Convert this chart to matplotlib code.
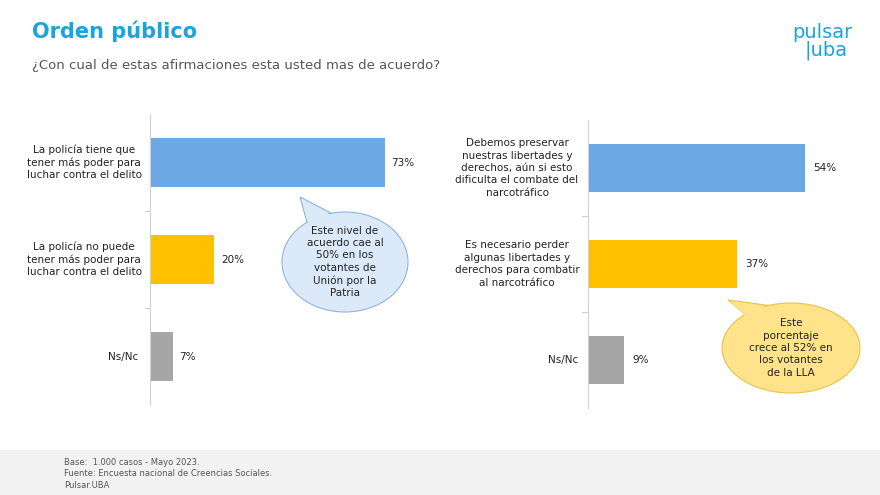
import matplotlib.pyplot as plt
import matplotlib.patches as mpatches

W, H = 880, 495

left_labels = ['La policía tiene que\ntener más poder para\nluchar contra el delito',
               'La policía no puede\ntener más poder para\nluchar contra el delito',
               'Ns/Nc']
left_values = [73, 20, 7]
right_labels = ['Debemos preservar\nnuestras libertades y\nderechos, aún si esto\ndificulta el combate del\nnarcotráfico',
                'Es necesario perder\nalgunas libertades y\nderechos para combatir\nal narcotráfico',
                'Ns/Nc']
right_values = [54, 37, 9]
colors = ['#6CA7E6', '#FFC000', '#A6A6A6']

fig = plt.figure(figsize=(W / 100, H / 100), dpi=100)
fig.patch.set_facecolor('white')


def px_axes(x0, y0, x1, y1):
    return fig.add_axes([x0 / W, 1 - y1 / H, (x1 - x0) / W, (y1 - y0) / H])


def draw_panel(ax, values, xmax):
    ys = range(len(values))
    ax.barh(ys, values, height=0.5, color=colors)
    ax.set_ylim(len(values) - 0.5, -0.5)
    ax.set_xlim(0, xmax)
    for y, v in zip(ys, values):
        ax.text(v + xmax * 0.02, y, f'{v}%', va='center', ha='left', fontsize=7.5, color='#222222')
    ax.set_yticks([])
    ax.set_xticks([])
    for s in ['top', 'right', 'bottom']:
        ax.spines[s].set_visible(False)
    ax.spines['left'].set_color('#D0D0D0')
    for b in [0.5, 1.5]:
        ax.plot([-xmax * 0.015, 0], [b, b], color='#D0D0D0', lw=0.8, clip_on=False)
    return ax


def draw_labels(ax, labels, xc, xr):
    for y, lab in enumerate(labels):
        yy = ax.transData.transform((0, y))[1] / fig.bbox.height
        if '\n' in lab:
            fig.text(xc / W, yy, lab, ha='center', va='center', fontsize=7.5,
                     color='#222222', linespacing=1.3, multialignment='center')
        else:
            fig.text(xr / W, yy, lab, ha='right', va='center', fontsize=7.5, color='#222222')


axl = px_axes(150, 114, 472, 405)
draw_panel(axl, left_values, 100)
draw_labels(axl, left_labels, 84, 138)

axr = px_axes(588, 120, 990, 408)
draw_panel(axr, right_values, 100)
draw_labels(axr, right_labels, 517, 578)


def bubble(cx, cy, w, h, tip, color, edge, text):
    ax = fig.add_axes([0, 0, 1, 1], facecolor='none')
    ax.set_xlim(0, W)
    ax.set_ylim(H, 0)
    ax.axis('off')
    ax.add_patch(mpatches.Polygon([tip, (cx - w * 0.28, cy - h * 0.3), (cx - w * 0.05, cy - h * 0.45)],
                                  closed=True, facecolor=color, edgecolor=edge, lw=0.8))
    ax.add_patch(mpatches.Ellipse((cx, cy), w, h, facecolor=color, edgecolor=edge, lw=0.8))
    ax.add_patch(mpatches.Polygon([(tip[0] + 2, tip[1] + 2), (cx - w * 0.27, cy - h * 0.28), (cx - w * 0.06, cy - h * 0.43)],
                                  closed=True, facecolor=color, edgecolor='none'))
    ax.text(cx, cy, text, ha='center', va='center', fontsize=7.5, color='#222222', linespacing=1.3)


bubble(345, 262, 126, 100, (300, 197), '#DCE9F9', '#8FB4E0',
       'Este nivel de\nacuerdo cae al\n50% en los\nvotantes de\nUnión por la\nPatria')
bubble(791, 348, 138, 90, (728, 300), '#FFE38A', '#E8C24A',
       'Este\nporcentaje\ncrece al 52% en\nlos votantes\nde la LLA')

fig.text(32 / W, 1 - 31 / H, 'Orden público', fontsize=15, fontweight='bold', color='#1AA3DD', va='center')
fig.text(32 / W, 1 - 66 / H, '¿Con cual de estas afirmaciones esta usted mas de acuerdo?', fontsize=9.5,
         color='#555555', va='center')
fig.text(822 / W, 1 - 32 / H, 'pulsar', fontsize=14, color='#1AA3DD', ha='center', va='center')
fig.text(826 / W, 1 - 50 / H, '|uba', fontsize=14, color='#1AA3DD', ha='center', va='center')

fig.patches.append(mpatches.Rectangle((0, 0), 1, 45 / H, transform=fig.transFigure,
                                      facecolor='#F2F2F2', edgecolor='none', zorder=0))
fig.text(64 / W, 1 - 474 / H, 'Base:  1.000 casos - Mayo 2023.\nFuente: Encuesta nacional de Creencias Sociales.\nPulsar.UBA',
         fontsize=6, color='#555555', va='center', linespacing=1.3)

fig.savefig('out.png', dpi=100)
